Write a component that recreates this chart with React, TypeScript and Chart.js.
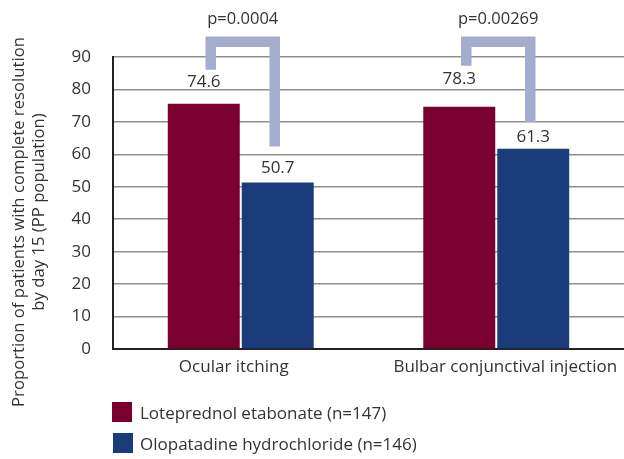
import React, { useEffect, useRef } from "react";
import { Chart, registerables } from "chart.js";

Chart.register(...registerables);

const categories = ["Ocular itching", "Bulbar conjunctival injection"];
const seriesNames = ["Loteprednol etabonate (n=147)", "Olopatadine hydrochloride (n=146)"];
const loteprednolValues = [75.6, 74.7];
const olopatadineValues = [51.3, 61.7];
const loteprednolLabels = ["74.6", "78.3"];
const olopatadineLabels = ["50.7", "61.3"];
const pValueLabels = ["p=0.0004", "p=0.00269"];
const bracketTopValue = 94.7;
const bracketLeftEnd = [86.1, 87.3];
const bracketRightEnd = [62.4, 70.0];

const RED = "#7a0030";
const BLUE = "#1b3c7a";
const BRACKET = "#a6acce";
const TEXT = "#333333";
const FONT = "'Open Sans', sans-serif";

export default function App() {
  const ref = useRef<HTMLCanvasElement>(null);

  useEffect(() => {
    const canvas = ref.current!;
    const annot = {
      id: "annot",
      afterDatasetsDraw(chart: any) {
        const ctx = chart.ctx as CanvasRenderingContext2D;
        const y = chart.scales.y;
        const x = chart.scales.x;
        const area = chart.chartArea;
        const m0 = chart.getDatasetMeta(0);
        const m1 = chart.getDatasetMeta(1);
        ctx.save();
        ctx.fillStyle = TEXT;
        ctx.textAlign = "center";
        ctx.textBaseline = "middle";
        // value labels
        ctx.font = `17px ${FONT}`;
        const redOff = [22, 27];
        const blueOff = [14, 12];
        m0.data.forEach((b: any, i: number) => {
          ctx.fillText(loteprednolLabels[i], b.x, b.y - redOff[i]);
        });
        m1.data.forEach((b: any, i: number) => {
          ctx.fillText(olopatadineLabels[i], b.x, b.y - blueOff[i]);
        });
        // category labels
        const catShift = [-7, 9];
        categories.forEach((c, i) => {
          ctx.fillText(c, x.getPixelForValue(i) + catShift[i], area.bottom + 18);
        });
        // brackets
        ctx.strokeStyle = BRACKET;
        ctx.lineWidth = 10.5;
        ctx.lineJoin = "miter";
        ctx.lineCap = "butt";
        for (let i = 0; i < categories.length; i++) {
          const lx = m0.data[i].x + 7;
          const rx = m1.data[i].x - 3;
          const ty = y.getPixelForValue(bracketTopValue);
          ctx.beginPath();
          ctx.moveTo(lx, y.getPixelForValue(bracketLeftEnd[i]));
          ctx.lineTo(lx, ty);
          ctx.lineTo(rx, ty);
          ctx.lineTo(rx, y.getPixelForValue(bracketRightEnd[i]));
          ctx.stroke();
          ctx.fillStyle = TEXT;
          ctx.font = `16.5px ${FONT}`;
          ctx.fillText(pValueLabels[i], (lx + rx) / 2, ty - 22);
        }
        // y title
        ctx.font = `16.7px ${FONT}`;
        ctx.save();
        ctx.translate(19, 222);
        ctx.rotate(-Math.PI / 2);
        ctx.fillText("Proportion of patients with complete resolution", 0, 0);
        ctx.restore();
        ctx.save();
        ctx.translate(39, 212);
        ctx.rotate(-Math.PI / 2);
        ctx.fillText("by day 15 (PP population)", 0, 0);
        ctx.restore();
        // legend
        const colors = [RED, BLUE];
        const rows = [{ x: 112, y: 402 }, { x: 113, y: 433 }];
        ctx.font = `17px ${FONT}`;
        ctx.textAlign = "left";
        rows.forEach((r, i) => {
          ctx.fillStyle = colors[i];
          ctx.fillRect(r.x, r.y, 20, 20);
          ctx.fillStyle = TEXT;
          ctx.fillText(seriesNames[i], 140, r.y + 12);
        });
        ctx.restore();
      },
    };

    const chart = new Chart(canvas, {
      type: "bar",
      data: {
        labels: categories,
        datasets: [
          { label: seriesNames[0], data: loteprednolValues, backgroundColor: RED, barPercentage: 0.973, categoryPercentage: 0.579 },
          { label: seriesNames[1], data: olopatadineValues, backgroundColor: BLUE, barPercentage: 0.973, categoryPercentage: 0.579 },
        ],
      },
      options: {
        responsive: false,
        animation: false,
        devicePixelRatio: 1,
        layout: { padding: { top: 57, left: 0, right: 0, bottom: 0 } },
        plugins: { legend: { display: false }, tooltip: { enabled: false } },
        scales: {
          x: {
            grid: { display: false },
            border: { display: true, color: "#222", width: 2 },
            ticks: { display: false },
            afterFit: (s: any) => { s.height = 110; },
          },
          y: {
            min: 0,
            max: 90,
            ticks: { stepSize: 10, color: TEXT, font: { family: FONT, size: 17 }, padding: 22 },
            grid: { color: "#8f8f8f", lineWidth: 1.5, drawTicks: false },
            border: { display: true, color: "#222", width: 2 },
            afterFit: (s: any) => { s.width = 113; },
          },
        },
      },
      plugins: [annot],
    });
    return () => chart.destroy();
  }, []);

  return (
    <div style={{ position: "fixed", left: 0, top: 0, width: 624, height: 459, background: "#fff" }}>
      <canvas ref={ref} width={624} height={459} style={{ display: "block" }} />
    </div>
  );
}
